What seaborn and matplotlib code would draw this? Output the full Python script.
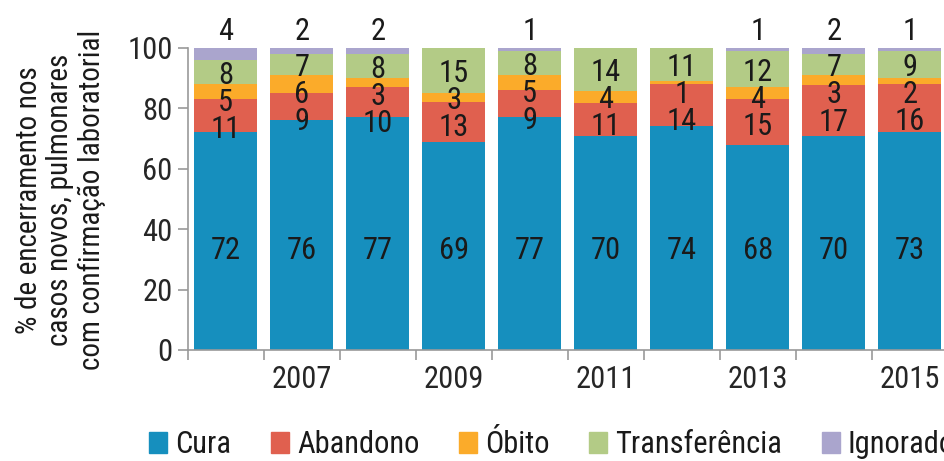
import numpy as np
import pandas as pd
import matplotlib
matplotlib.use("Agg")
import matplotlib.pyplot as plt
from matplotlib.patches import Patch
import seaborn as sb

anos = [2006, 2007, 2008, 2009, 2010, 2011, 2012, 2013, 2014, 2015]
cura = [72, 76, 77, 69, 77, 70, 74, 68, 70, 73]
abandono = [11, 9, 10, 13, 9, 11, 14, 15, 17, 16]
obito = [5, 6, 3, 3, 5, 4, 1, 4, 3, 2]
transferencia = [8, 7, 8, 15, 8, 14, 11, 12, 7, 9]
ignorado = [4, 2, 2, 0, 1, 0, 0, 1, 2, 1]

nomes = ["Cura", "Abandono", "Óbito", "Transferência", "Ignorado"]
cores = ["#168fbe", "#e0604f", "#fbab2a", "#b3cb86", "#aaa5cd"]
anos_rotulo = ["2007", "2009", "2011", "2013", "2015"]

FONTE = ["Roboto Condensed", "PT Sans Narrow", "DejaVu Sans"]


def main():
	sb.set_theme(style="white")
	plt.rcParams["font.family"] = FONTE
	plt.rcParams["text.color"] = "#1a1a1a"

	series = [cura, abandono, obito, transferencia, ignorado]
	df = pd.DataFrame(dict(zip(nomes, series)), index=anos)
	# rounded values do not always add to 100: rescale each year to 100%
	pct = df.div(df.sum(axis=1), axis=0) * 100
	acum = pct.cumsum(axis=1)

	fig = plt.figure(figsize=(9.44, 4.61), dpi=100)
	ax = fig.add_axes([0.199, 0.241, 0.805, 0.655])

	# stacked bars: draw the cumulative totals from top to bottom
	for i in range(len(nomes) - 1, -1, -1):
		sb.barplot(x=list(range(len(anos))), y=acum[nomes[i]].values, color=cores[i],
			width=0.83, linewidth=0, saturation=1, ax=ax, native_scale=True)

	# value labels (spread apart when segments are thin)
	fs = 22
	for j in range(len(anos)):
		topo = acum.iloc[j]
		base = topo - pct.iloc[j]
		ys = list((topo + base).values / 2 - 1)
		ys[0] = min(cura) / 2 - 1.2
		for i in range(len(nomes) - 3, 0, -1):
			ys[i] = min(ys[i], ys[i + 1] - 9)
		for i in range(len(nomes) - 1):
			ax.text(j, ys[i], str(df.iloc[j, i]), ha="center", va="center", fontsize=fs)
		if df.iloc[j, 4] > 0:
			ax.text(j, 105.5, str(df.iloc[j, 4]), ha="center", va="center", fontsize=fs,
				clip_on=False)

	ax.set_xlim(-0.5, len(anos) - 0.5)
	ax.set_ylim(0, 100)
	ax.set_xticks(np.arange(-0.5, len(anos), 1))
	ax.set_xticklabels([])
	ax.set_xticks([1, 3, 5, 7, 9], minor=True)
	ax.set_xticklabels(anos_rotulo, minor=True, fontsize=fs)
	ax.set_yticks(range(0, 101, 20))
	ax.tick_params(axis="y", labelsize=fs, length=7, width=1.2, color="#999999",
		direction="out", left=True, pad=4)
	ax.tick_params(axis="x", which="major", length=7, width=1.2, color="#999999",
		direction="out", bottom=True)
	ax.tick_params(axis="x", which="minor", length=0, pad=11)
	for s in ["top", "right"]:
		ax.spines[s].set_visible(False)
	for s in ["left", "bottom"]:
		ax.spines[s].set_color("#999999")
		ax.spines[s].set_linewidth(1.2)
	ax.set_xlabel("")
	ax.set_ylabel("")

	fig.text(0.064, 0.566, "% de encerramento nos\ncasos novos, pulmonares\ncom confirmação laboratorial",
		rotation=90, ha="center", va="center", fontsize=21, linespacing=1.15)

	handles = [Patch(color=c, label=n) for c, n in zip(cores, nomes)]
	fig.legend(handles=handles, loc="center left", bbox_to_anchor=(0.158, 0.035), ncol=5,
		frameon=False, fontsize=fs, handlelength=0.6, handleheight=0.65, handletextpad=0.25,
		columnspacing=1.3, borderpad=0, borderaxespad=0)

	fig.savefig("out.png", dpi=100)


if __name__ == '__main__':
	main()
